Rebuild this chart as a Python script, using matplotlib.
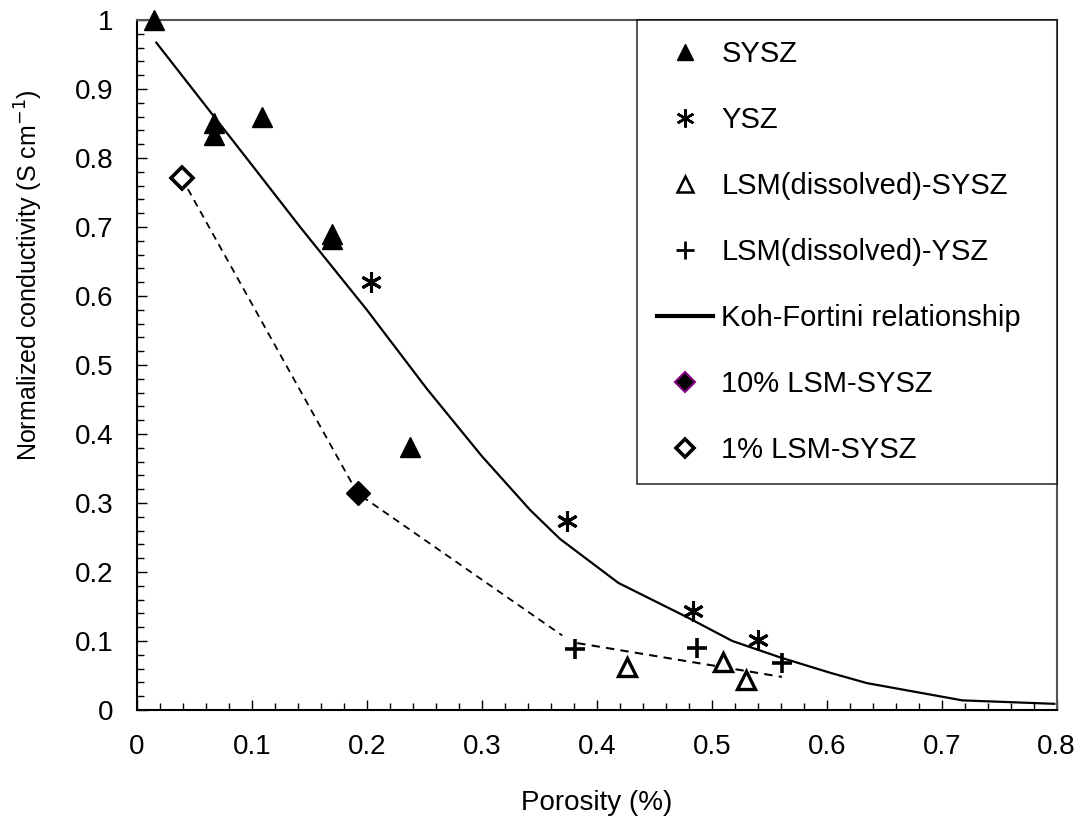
import matplotlib.pyplot as plt
from matplotlib.lines import Line2D
from matplotlib.ticker import MultipleLocator, FuncFormatter

plt.rcParams['font.family'] = ['Liberation Sans', 'DejaVu Sans']

# measured data
sysz_x = [0.015, 0.067, 0.067, 0.109, 0.170, 0.170, 0.238]
sysz_y = [1.0, 0.851, 0.834, 0.859, 0.690, 0.682, 0.381]

ysz_x = [0.204, 0.374, 0.484, 0.540]
ysz_y = [0.620, 0.274, 0.143, 0.101]

lsm_sysz_x = [0.426, 0.510, 0.530]
lsm_sysz_y = [0.063, 0.070, 0.044]

lsm_ysz_x = [0.381, 0.487, 0.561]
lsm_ysz_y = [0.089, 0.090, 0.068]

kf_x = [0.017, 0.10, 0.142, 0.20, 0.252, 0.30, 0.342, 0.368, 0.419,
        0.478, 0.518, 0.560, 0.603, 0.635, 0.718, 0.798]
kf_y = [0.967, 0.790, 0.700, 0.580, 0.466, 0.368, 0.290, 0.248, 0.184,
        0.135, 0.100, 0.076, 0.054, 0.039, 0.014, 0.009]

lsm10_x = [0.192]
lsm10_y = [0.314]
lsm1_x = [0.039]
lsm1_y = [0.771]

trend_a_x = [0.039, 0.192, 0.370]
trend_a_y = [0.771, 0.314, 0.108]
trend_b_x = [0.383, 0.561]
trend_b_y = [0.097, 0.048]

fig = plt.figure(figsize=(10.86, 8.32), dpi=100)
ax = fig.add_axes([0.126, 0.1466, 0.847, 0.8294])

ax.plot(trend_a_x, trend_a_y, color='black', linestyle=(0, (4, 3)), linewidth=1.3, zorder=2)
ax.plot(trend_b_x, trend_b_y, color='black', linestyle=(0, (4, 3)), linewidth=1.5, zorder=2)
ax.plot(kf_x, kf_y, color='black', linewidth=1.6, zorder=2)

ax.plot(sysz_x, sysz_y, linestyle='none', marker='^', markersize=14,
        color='black', clip_on=False, zorder=3)
ax.plot(ysz_x, ysz_y, linestyle='none', marker=(6, 2, 0), markersize=15,
        markeredgewidth=2.2, color='black', zorder=3)
ax.plot(lsm_sysz_x, lsm_sysz_y, linestyle='none', marker='^', markersize=13,
        markerfacecolor='white', markeredgecolor='black', markeredgewidth=2.4, zorder=3)
ax.plot(lsm_ysz_x, lsm_ysz_y, linestyle='none', marker='+', markersize=15,
        markeredgewidth=2.6, color='black', zorder=3)
ax.plot(lsm10_x, lsm10_y, linestyle='none', marker='D', markersize=12,
        color='black', zorder=3)
ax.plot(lsm1_x, lsm1_y, linestyle='none', marker='D', markersize=11,
        markerfacecolor='white', markeredgecolor='black', markeredgewidth=2.6, zorder=3)

ax.set_xlim(0, 0.8)
ax.set_ylim(0, 1.0)
ax.xaxis.set_major_locator(MultipleLocator(0.1))
ax.xaxis.set_minor_locator(MultipleLocator(0.02))
ax.yaxis.set_major_locator(MultipleLocator(0.1))
ax.yaxis.set_minor_locator(MultipleLocator(0.02))
fmt = FuncFormatter(lambda v, p: f'{v:.1f}'.rstrip('0').rstrip('.') if v else '0')
ax.xaxis.set_major_formatter(fmt)
ax.yaxis.set_major_formatter(fmt)
ax.tick_params(which='both', direction='in', labelsize=20, width=1)
ax.tick_params(which='major', length=7)
ax.tick_params(which='minor', length=5)
ax.tick_params(axis='y', pad=17)
ax.tick_params(axis='x', pad=17)

for side in ['left', 'bottom']:
    ax.spines[side].set_linewidth(1.5)
    ax.spines[side].set_color('black')
for side in ['top', 'right']:
    ax.spines[side].set_linewidth(1.5)
    ax.spines[side].set_color('#555555')

ax.set_xlabel('Porosity (%)', fontsize=20, labelpad=22)
ax.set_ylabel('Normalized conductivity (S cm$^{-1}$)', fontsize=18)
ax.yaxis.set_label_coords(-0.1, 0.63)

handles = [
    Line2D([], [], linestyle='none', marker='^', markersize=12, color='black'),
    Line2D([], [], linestyle='none', marker=(6, 2, 0), markersize=13,
           markeredgewidth=1.8, color='black'),
    Line2D([], [], linestyle='none', marker='^', markersize=11, markerfacecolor='white',
           markeredgecolor='black', markeredgewidth=1.8),
    Line2D([], [], linestyle='none', marker='+', markersize=13, markeredgewidth=2.0,
           color='black'),
    Line2D([], [], color='black', linewidth=3),
    Line2D([], [], linestyle='none', marker='D', markersize=10, markerfacecolor='black',
           markeredgecolor='#800080', markeredgewidth=1.5),
    Line2D([], [], linestyle='none', marker='D', markersize=9, markerfacecolor='white',
           markeredgecolor='black', markeredgewidth=2.6),
]
labels = ['SYSZ', 'YSZ', 'LSM(dissolved)-SYSZ', 'LSM(dissolved)-YSZ',
          'Koh-Fortini relationship', '10% LSM-SYSZ', '1% LSM-SYSZ']
leg = ax.legend(handles, labels, loc='upper left', bbox_to_anchor=(0.5435, 1.0, 0.4565, 0.0),
                mode='expand', borderaxespad=0, fontsize=21, labelspacing=1.3,
                handlelength=1.9, handletextpad=0.3, borderpad=0.7,
                frameon=True, fancybox=False, edgecolor='black')
leg.get_frame().set_linewidth(1.2)

fig.savefig('out.png', dpi=100)
